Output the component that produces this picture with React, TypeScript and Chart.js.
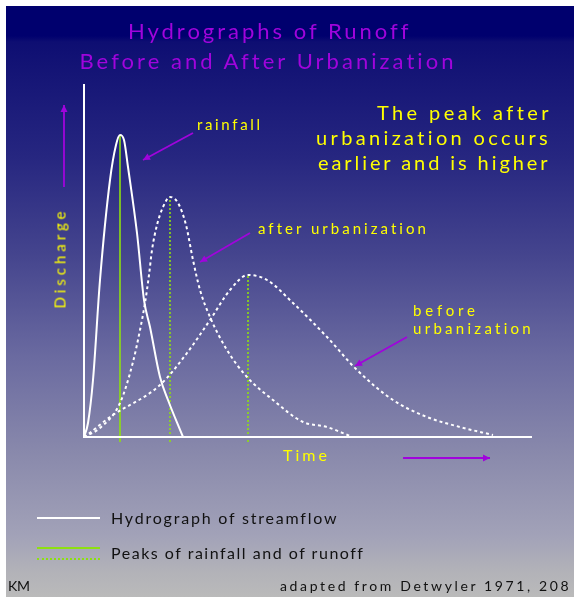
import React, { useEffect, useRef } from "react";
import { Chart, registerables } from "chart.js";

Chart.register(...registerables);

// ---- data (time units, discharge units) ----
const rainfallTime = [0, 0.4, 0.9, 1.6, 2.6, 3.2, 3.6, 4.0, 4.4, 5.3, 6.0, 6.6, 7.6, 8.4, 9.9];
const rainfallFlow = [0, 1.4, 5.7, 15.7, 25.7, 29.2, 30.2, 29.7, 27.0, 20.4, 13.7, 11.0, 6.0, 3.7, 0];

const afterTime = [0, 1.6, 3.6, 4.9, 5.6, 6.1, 6.5, 6.8, 7.3, 7.9, 8.6, 9.4, 10.2, 10.9, 11.6, 12.6, 14.3, 16.3, 18.9, 21.9, 24.3, 26.6];
const afterFlow = [0, 0.9, 3.4, 7.5, 10.7, 13.4, 16.2, 18.7, 21.2, 23.0, 24.0, 23.4, 21.2, 17.7, 14.7, 12.0, 8.7, 6.0, 3.7, 1.5, 1.0, 0.1];

const beforeTime = [0, 0.3, 2.6, 7.6, 10.3, 12.6, 14.6, 16.4, 18.3, 20.9, 24.3, 27.3, 30.9, 34.3, 37.6, 40.9];
const beforeFlow = [0, 0.2, 2.0, 5.2, 8.4, 11.7, 14.7, 16.2, 15.7, 13.4, 10.0, 6.7, 3.7, 2.0, 1.0, 0.2];

const peakTimes = [3.6, 8.6, 16.4];
const peakFlows = [30.2, 24.0, 16.2];
const peakBase = -0.5;

const xMax = 44.8;
const yMax = 35.3;

// annotation arrows: [fromT, fromQ, toT, toQ]
const arrowRainfall = [10.9, 30.4, 5.9, 27.7];
const arrowAfter = [16.6, 20.4, 11.6, 17.5];
const arrowBefore = [32.3, 10.0, 27.1, 7.1];
const arrowDischarge = [-2.0, 25.0, -2.0, 33.2];
const arrowTime = [31.9, -2.1, 40.6, -2.1];

const PURPLE = "#a004dc";
const YELLOW = "#ffff00";
const GREEN = "#8ee010";
const FONT = "Lato";

const measureCanvas = typeof document !== "undefined" ? document.createElement("canvas") : null;
function measure(text: string, size: number, weight: number) {
  if (!measureCanvas) return text.length * size * 0.5;
  const ctx = measureCanvas.getContext("2d")!;
  ctx.font = `${weight} ${size}px ${FONT}`;
  return ctx.measureText(text).width;
}

type TxtProps = {
  text: string;
  x: number;
  y: number;
  size: number;
  color: string;
  width: number;
  align?: "left" | "center" | "right";
  weight?: number;
  rotate?: boolean;
};

function Txt({ text, x, y, size, color, width, align = "left", weight = 400, rotate = false }: TxtProps) {
  const natural = measure(text, size, weight);
  const ls = text.length > 1 ? (width - natural) / (text.length - 1) : 0;
  const style: React.CSSProperties = {
    position: "absolute",
    whiteSpace: "nowrap",
    fontFamily: FONT,
    fontSize: size,
    fontWeight: weight,
    lineHeight: 1,
    letterSpacing: ls,
    color,
  };
  if (rotate) {
    style.left = x;
    style.top = y;
    style.width = width + ls;
    style.transform = "translate(-50%, -50%) rotate(-90deg)";
  } else {
    style.top = y - size / 2;
    if (align === "left") style.left = x;
    else if (align === "center") style.left = x - width / 2;
    else style.left = x - width;
  }
  return <div style={style}>{text}</div>;
}

function pts(xs: number[], ys: number[]) {
  return xs.map((x, i) => ({ x, y: ys[i] }));
}

export default function App() {
  const canvasRef = useRef<HTMLCanvasElement | null>(null);

  useEffect(() => {
    const canvas = canvasRef.current;
    if (!canvas) return;

    const overlay = {
      id: "overlay",
      afterDatasetsDraw(chart: any) {
        const ctx = chart.ctx;
        const xs = chart.scales.x;
        const ys = chart.scales.y;
        ctx.save();
        // axes
        ctx.strokeStyle = "#ffffff";
        ctx.lineWidth = 2;
        ctx.beginPath();
        ctx.moveTo(xs.getPixelForValue(0), chart.chartArea.top);
        ctx.lineTo(xs.getPixelForValue(0), ys.getPixelForValue(0));
        ctx.lineTo(chart.chartArea.right, ys.getPixelForValue(0));
        ctx.stroke();
        // arrows
        const arrows = [arrowRainfall, arrowAfter, arrowBefore, arrowDischarge, arrowTime];
        ctx.strokeStyle = PURPLE;
        ctx.fillStyle = PURPLE;
        ctx.lineWidth = 1.8;
        for (const a of arrows) {
          const x1 = xs.getPixelForValue(a[0]);
          const y1 = ys.getPixelForValue(a[1]);
          const x2 = xs.getPixelForValue(a[2]);
          const y2 = ys.getPixelForValue(a[3]);
          ctx.beginPath();
          ctx.moveTo(x1, y1);
          ctx.lineTo(x2, y2);
          ctx.stroke();
          const ang = Math.atan2(y2 - y1, x2 - x1);
          const L = 7;
          const W = 3.5;
          ctx.beginPath();
          ctx.moveTo(x2, y2);
          ctx.lineTo(x2 - L * Math.cos(ang) + W * Math.sin(ang), y2 - L * Math.sin(ang) - W * Math.cos(ang));
          ctx.lineTo(x2 - L * Math.cos(ang) - W * Math.sin(ang), y2 - L * Math.sin(ang) + W * Math.cos(ang));
          ctx.closePath();
          ctx.fill();
        }
        ctx.restore();
      },
    };

    const greenSets = peakTimes.map((t, i) => ({
      label: `peak${i}`,
      data: [
        { x: t, y: peakBase },
        { x: t, y: peakFlows[i] },
      ],
      borderColor: GREEN,
      borderWidth: 1.6,
      borderDash: i === 0 ? [] : [2, 2],
      pointRadius: 0,
      clip: false as any,
      order: 1,
    }));

    const chart = new Chart(canvas, {
      type: "line",
      data: {
        datasets: [
          ...greenSets,
          {
            label: "rainfall",
            data: pts(rainfallTime, rainfallFlow),
            borderColor: "#ffffff",
            borderWidth: 2,
            pointRadius: 0,
            cubicInterpolationMode: "monotone",
            clip: false as any,
            order: 0,
          },
          {
            label: "after urbanization",
            data: pts(afterTime, afterFlow),
            borderColor: "#ffffff",
            borderWidth: 2,
            borderDash: [3, 3],
            pointRadius: 0,
            cubicInterpolationMode: "monotone",
            clip: false as any,
            order: 0,
          },
          {
            label: "before urbanization",
            data: pts(beforeTime, beforeFlow),
            borderColor: "#ffffff",
            borderWidth: 2,
            borderDash: [3, 3],
            pointRadius: 0,
            cubicInterpolationMode: "monotone",
            clip: false as any,
            order: 0,
          },
        ],
      },
      options: {
        animation: false,
        responsive: false,
        devicePixelRatio: 1,
        parsing: false as any,
        layout: { padding: { left: 78, top: 78, right: 42, bottom: 160 } },
        plugins: { legend: { display: false }, tooltip: { enabled: false } },
        scales: {
          x: { type: "linear", display: false, min: 0, max: xMax },
          y: { type: "linear", display: false, min: 0, max: yMax },
        },
      },
      plugins: [overlay],
    });
    return () => chart.destroy();
  }, []);

  const bg =
    "linear-gradient(to bottom, #00006e 0px, #00006e 30px, #0e0e72 36px, #262680 150px, #45458e 250px, #6a6aa0 350px, #8a8aac 450px, #a2a2b8 530px, #b2b2b8 565px, #bababa 591px)";

  return (
    <div style={{ position: "fixed", left: 0, top: 0, width: 574, height: 597, background: "#ffffff", overflow: "hidden" }}>
      <div style={{ position: "absolute", left: 6, top: 6, width: 568, height: 591, background: bg }} />
      <canvas ref={canvasRef} width={568} height={591} style={{ position: "absolute", left: 6, top: 6, width: 568, height: 591 }} />

      <Txt text="Hydrographs of Runoff" x={268} y={31} size={22} color={PURPLE} width={280} align="center" weight={400} />
      <Txt text="Before and After Urbanization" x={267} y={61} size={22} color={PURPLE} width={375} align="center" weight={400} />

      <Txt text="The peak after" x={548} y={112} size={20} color={YELLOW} width={171} align="right" />
      <Txt text="urbanization occurs" x={548} y={137} size={20} color={YELLOW} width={232} align="right" />
      <Txt text="earlier and is higher" x={548} y={162} size={20} color={YELLOW} width={230} align="right" />

      <Txt text="rainfall" x={197} y={124} size={15} color={YELLOW} width={63} />
      <Txt text="after urbanization" x={258} y={228} size={15} color={YELLOW} width={168} />
      <Txt text="before" x={413} y={310} size={15} color={YELLOW} width={62} />
      <Txt text="urbanization" x={413} y={328} size={15} color={YELLOW} width={118} />
      <Txt text="Discharge" x={60} y={258} size={15} color={YELLOW} width={97} rotate />
      <Txt text="Time" x={305} y={455} size={16} color={YELLOW} width={44} align="center" />

      <div style={{ position: "absolute", left: 37, top: 517, width: 63, height: 0, borderTop: "2px solid #ffffff" }} />
      <div style={{ position: "absolute", left: 37, top: 547, width: 63, height: 0, borderTop: `2px solid ${GREEN}` }} />
      <div style={{ position: "absolute", left: 37, top: 558, width: 63, height: 0, borderTop: `2px dotted ${GREEN}` }} />
      <Txt text="Hydrograph of streamflow" x={111} y={518} size={16} color="#111111" width={226} />
      <Txt text="Peaks of rainfall and of runoff" x={111} y={553} size={16} color="#111111" width={252} />

      <Txt text="KM" x={8} y={586} size={14} color="#111111" width={22} />
      <Txt text="adapted from Detwyler 1971, 208" x={280} y={586} size={14} color="#111111" width={289} />
    </div>
  );
}
